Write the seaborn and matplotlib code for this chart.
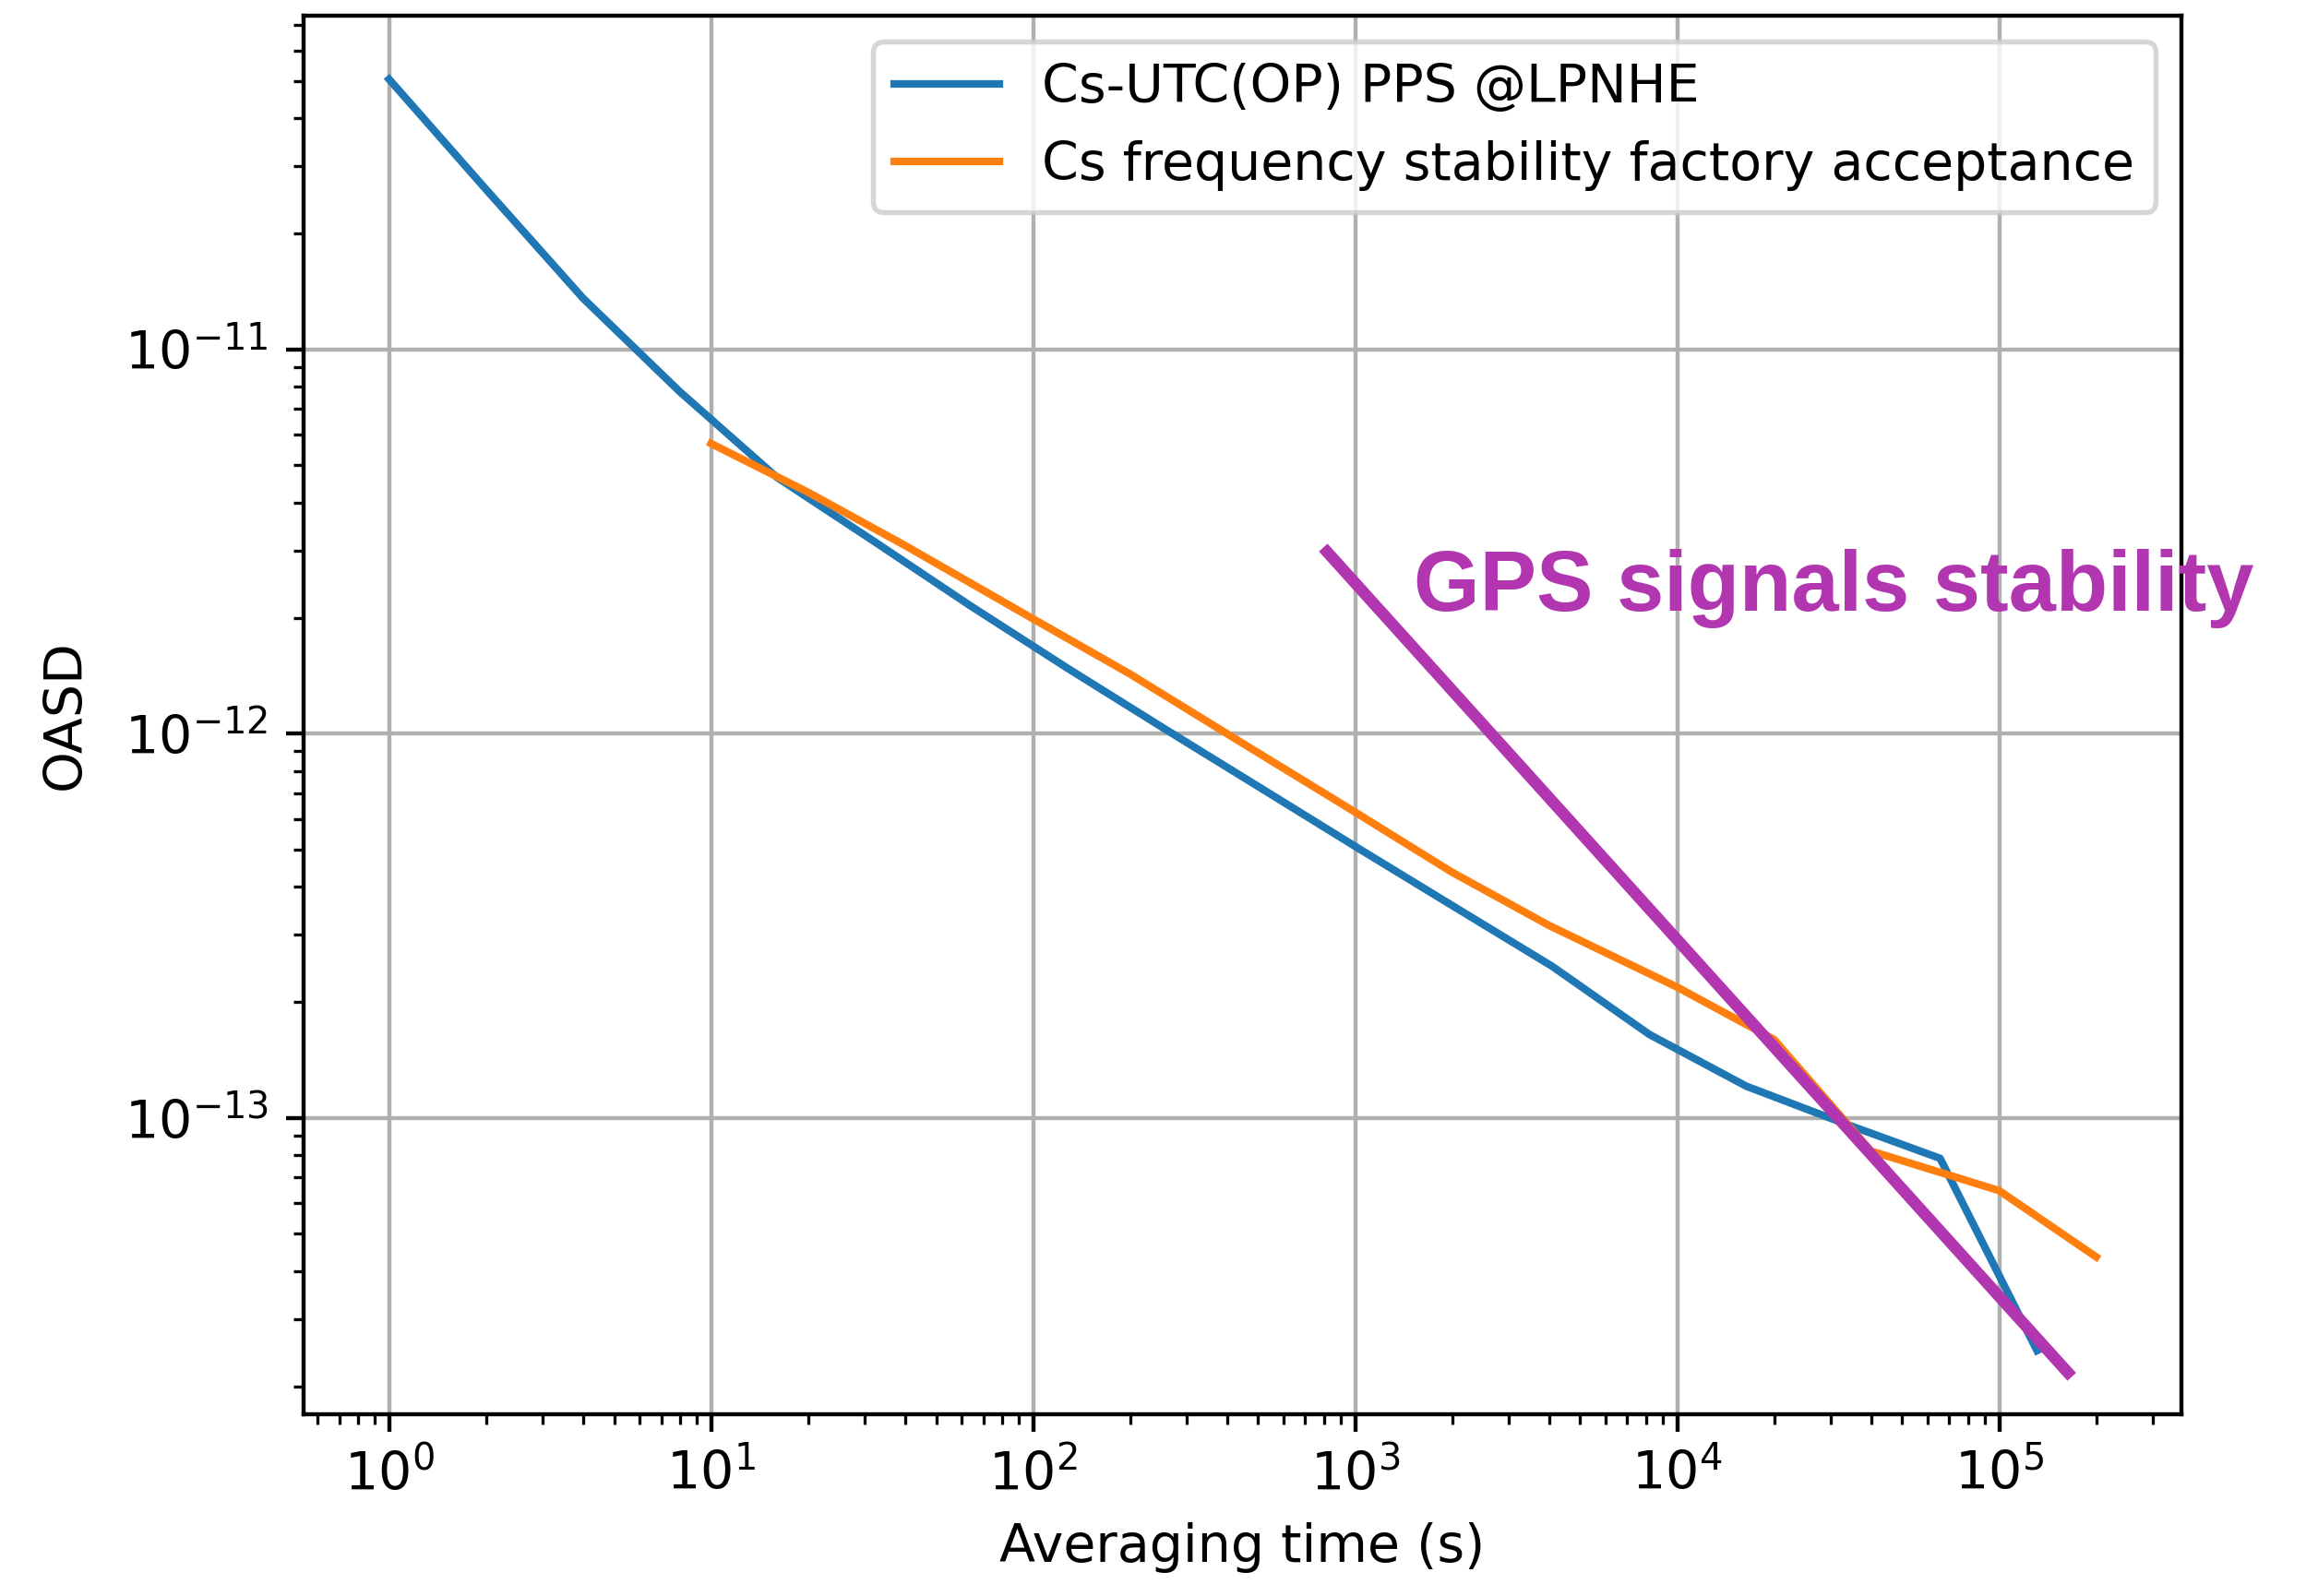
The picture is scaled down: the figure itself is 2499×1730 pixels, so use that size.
import matplotlib
matplotlib.use('Agg')
import matplotlib.pyplot as plt
import seaborn as sns

# Allan deviation of the Cs clock vs UTC(OP), PPS measured @LPNHE (octave taus)
tau_pps = [1, 2, 4, 8, 16, 32, 64, 128, 256, 512, 1024, 2048, 4096,
           8192, 16384, 32768, 65536, 131072]
adev_pps = [5.05e-11, 2.61e-11, 1.36e-11, 7.76e-12, 4.65e-12, 3.17e-12,
            2.15e-12, 1.48e-12, 1.03e-12, 7.2e-13, 5.03e-13, 3.53e-13,
            2.48e-13, 1.65e-13, 1.21e-13, 9.7e-14, 7.85e-14, 2.48e-14]

# factory acceptance sheet of the Cs clock
tau_spec = [10, 20, 40, 100, 200, 400, 1000, 2000, 4000, 1e4, 2e4, 4e4, 1e5, 2e5]
adev_spec = [5.69e-12, 4.25e-12, 3.09e-12, 1.99e-12, 1.43e-12, 1.0e-12,
             6.25e-13, 4.36e-13, 3.17e-13, 2.19e-13, 1.6e-13, 8.2e-14,
             6.47e-14, 4.35e-14]

# hand drawn GPS line (annotation)
gps_tau = [796, 1.68e5]
gps_adev = [3.05e-12, 2.12e-14]

LABEL_PPS = "Cs-UTC(OP) PPS @LPNHE"
LABEL_SPEC = "Cs frequency stability factory acceptance"
GPS_TEXT = "GPS signals stability"
PURPLE = "#b236b0"

plt.rcParams["font.size"] = 10.4

DPI = 395
fig = plt.figure(figsize=(2499 / DPI, 1730 / DPI), dpi=DPI, facecolor="white")
ax = fig.add_subplot(111)
fig.subplots_adjust(left=0.1317, right=0.946, top=0.9902, bottom=0.1139)

sns.lineplot(x=tau_pps, y=adev_pps, ax=ax, color="#1f77b4", linewidth=1.5,
             label=LABEL_PPS, estimator=None, sort=False)
sns.lineplot(x=tau_spec, y=adev_spec, ax=ax, color="#ff7f0e", linewidth=1.5,
             label=LABEL_SPEC, estimator=None, sort=False)

ax.set_xscale("log")
ax.set_yscale("log")
ax.grid(True, which="major")
ax.set_xlabel("Averaging time (s)")
ax.set_ylabel("OASD", labelpad=6.5)
ax.legend(loc="upper right")

# annotation on top, must not change the autoscaled limits
ax.plot(gps_tau, gps_adev, color=PURPLE, linewidth=2.3,
        solid_capstyle="butt", scalex=False, scaley=False, zorder=5)
ax.text(1521, 2.09e-12, GPS_TEXT, color=PURPLE, fontsize=16.8,
        fontweight="bold", family="Liberation Sans", va="baseline",
        ha="left", zorder=6)

fig.savefig("out.png", dpi=DPI, facecolor="white")
